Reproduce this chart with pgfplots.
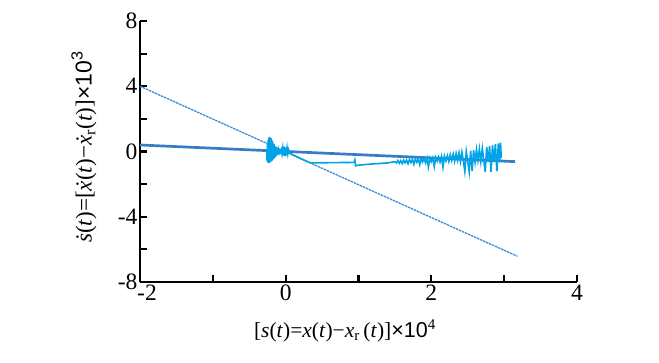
\documentclass[border=0pt]{standalone}
\usepackage{fontspec}
\setmainfont{Liberation Serif}
\setsansfont{Liberation Sans}
\usepackage{pgfplots}
\pgfplotsset{compat=1.18}
\definecolor{traj}{RGB}{0,163,232}
\definecolor{thickl}{RGB}{55,125,198}
\definecolor{dashl}{RGB}{60,140,210}
\newcommand\dotit[1]{\textit{\accent"02D9 #1}}
\begin{document}
\begin{tikzpicture}
\path[use as bounding box] (0pt,0pt) rectangle (659pt,362pt);
\begin{axis}[
  at={(140pt,80pt)}, anchor=south west,
  scale only axis, width=437pt, height=261pt,
  xmin=-2, xmax=4, ymin=-8, ymax=8,
  axis x line=bottom, axis y line=left,
  axis line style={-, line width=2.2pt},
  xtick={-2,0,2,4}, xticklabels={\hspace*{14pt}-2,0,2,4},
  minor xtick={-1,1,3},
  ytick={-8,-4,0,4,8}, yticklabels={-8,-4,0,4,8},
  minor ytick={-6,-2,2,6},
  tick align=inside,
  major tick length=7pt, minor tick length=7pt,
  every tick/.style={black, line width=2.2pt},
  tick label style={font=\fontsize{23.5}{26}\selectfont},
  xticklabel style={yshift=1pt},
  yticklabel style={xshift=1pt},
  xlabel style={font=\fontsize{21.5}{25}\selectfont},
  ylabel style={font=\fontsize{23}{26}\selectfont},
  xlabel={[\textit{s}(\textit{t})=\textit{x}(\textit{t})−\textit{x}\textsubscript{r}\,(\textit{t})]{\sffamily ×10}\textsuperscript{4}},
  ylabel={\dotit{s}(\textit{t})=[\dotit{x}(\textit{t})−\dotit{x}\textsubscript{r}(\textit{t})]{\sffamily ×10\textsuperscript{3}}},
  xlabel style={at={(axis description cs:0.469,-0.188)}, anchor=center},
  ylabel style={at={(axis description cs:-0.128,0.517)}, anchor=center},
  clip=false,
]
% dashed line
\addplot[dashl, line width=1.3pt, dash pattern=on 2.5pt off 0.8pt] coordinates {(-2,4.0) (3.18,-6.42)};
% thick line
\addplot[thickl, line width=2.7pt] coordinates {(-2,0.40) (3.15,-0.62)};
% trajectory
\addplot[traj, line width=1.6pt] coordinates {
(-0.26,0.1) (-0.255,-0.6) (-0.25,0.5) (-0.245,-0.65) (-0.24,0.7) (-0.235,-0.7)
(-0.23,0.85) (-0.225,-0.7) (-0.22,0.9) (-0.215,-0.65) (-0.21,0.85) (-0.205,-0.6)
(-0.20,0.8) (-0.195,-0.6) (-0.19,0.7) (-0.185,-0.55) (-0.18,0.6) (-0.175,-0.5)
(-0.17,0.5) (-0.165,-0.45) (-0.16,0.45) (-0.155,-0.4) (-0.15,0.35) (-0.145,-0.35)
(-0.14,0.3) (-0.135,-0.3) (-0.13,0.25) (-0.125,-0.25) (-0.12,0.2) (-0.115,-0.2)
(-0.11,0.15) (-0.105,-0.15) (-0.10,0.1) (-0.09,-0.1) (-0.08,0.05) (-0.07,-0.05)
(-0.06,0.1) (-0.05,-0.15) (-0.04,0.2) (-0.03,-0.25) (-0.02,0.3) (-0.01,-0.3)
(0.0,0.25) (0.01,-0.25) (0.02,0.2) (0.03,-0.15) (0.04,0.1) (0.05,-0.05) (0.06,-0.1)
(0.1,-0.2) (0.2,-0.42) (0.3,-0.62) (0.34,-0.7)
(0.5,-0.69) (0.7,-0.68) (0.9,-0.67) (0.94,-0.66) (0.95,-0.52) (0.96,-0.88) (0.99,-0.84)
(1.2,-0.76) (1.4,-0.7)
(1.50,-0.62) (1.52,-0.70) (1.54,-0.55) (1.56,-0.72) (1.58,-0.56) (1.60,-0.74)
(1.62,-0.53) (1.64,-0.70) (1.66,-0.52) (1.68,-0.75) (1.70,-0.50) (1.72,-0.68)
(1.74,-0.48) (1.76,-0.78) (1.78,-0.47) (1.80,-0.66) (1.82,-0.45) (1.84,-0.80)
(1.86,-0.44) (1.88,-0.64) (1.90,-0.42) (1.92,-0.70) (1.94,-0.40) (1.96,-0.95)
(1.98,-0.40) (2.00,-0.62) (2.02,-0.38) (2.04,-0.92) (2.06,-0.36) (2.08,-0.60)
(2.10,-0.33) (2.12,-0.65) (2.14,-0.30) (2.16,-0.96) (2.18,-0.28) (2.20,-0.58)
(2.22,-0.25) (2.24,-0.62) (2.26,-0.20) (2.28,-0.55) (2.30,-0.15) (2.32,-0.60)
(2.34,-0.12) (2.36,-0.55) (2.38,-0.08) (2.40,-0.62) (2.42,-0.05) (2.44,-0.58)
(2.46,-1.22) (2.48,0.00) (2.50,-0.60) (2.52,-1.25) (2.54,0.05) (2.56,-1.20)
(2.58,0.08) (2.60,-0.65) (2.62,0.12) (2.64,-0.55) (2.66,0.15) (2.68,-0.62)
(2.70,0.20) (2.72,-0.55) (2.74,-1.25) (2.76,0.28) (2.78,-0.60) (2.80,0.32)
(2.82,-1.25) (2.84,0.38) (2.86,-0.60) (2.88,0.45) (2.90,-1.22) (2.92,0.50)
(2.94,-0.65) (2.95,0.55) (2.96,-0.4)
};
\end{axis}
\end{tikzpicture}
\end{document}
